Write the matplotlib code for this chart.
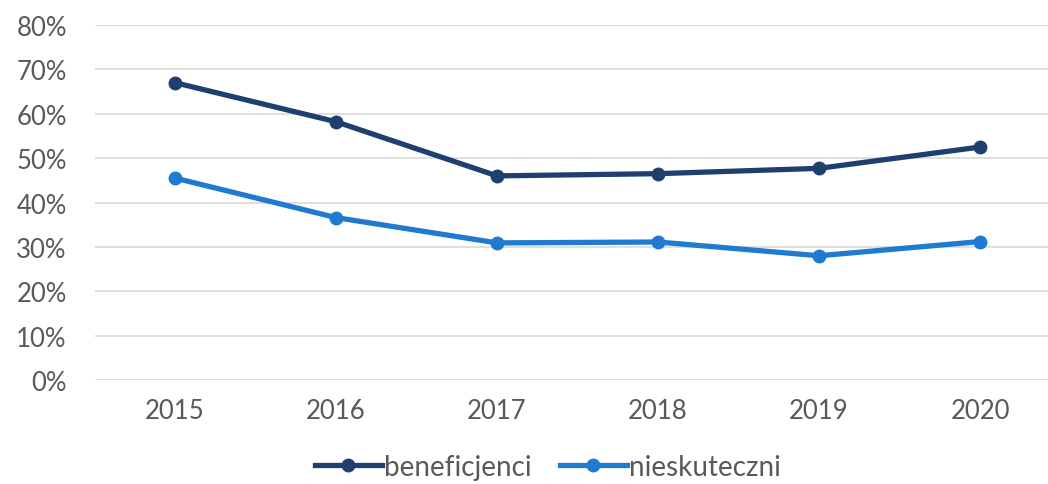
import matplotlib
matplotlib.use("Agg")
import matplotlib.pyplot as plt
from matplotlib.ticker import FuncFormatter

years = ["2015", "2016", "2017", "2018", "2019", "2020"]
beneficjenci = [67.0, 58.2, 46.0, 46.5, 47.7, 52.5]
nieskuteczni = [45.5, 36.6, 30.9, 31.1, 28.0, 31.2]
series_names = ["beneficjenci", "nieskuteczni"]
yticks = [0, 10, 20, 30, 40, 50, 60, 70, 80]

plt.rcParams['font.family'] = ['Lato', 'DejaVu Sans']
fig = plt.figure(figsize=(10.48, 4.85), dpi=100)
ax = fig.add_axes([0.0902, 0.2144, 0.9218, 0.732])

x = list(range(len(years)))
ax.plot(x, beneficjenci, color="#1F3F6E", lw=3.8, marker="o", ms=9, label=series_names[0], zorder=3)
ax.plot(x, nieskuteczni, color="#1F7BCF", lw=3.8, marker="o", ms=9, label=series_names[1], zorder=3)

ax.set_xlim(-0.5, len(years) - 0.5)
ax.set_ylim(0, 80)
ax.set_yticks(yticks)
ax.yaxis.set_major_formatter(FuncFormatter(lambda v, p: f"{int(v)}%"))
ax.set_xticks(x)
ax.set_xticklabels(years)
ax.grid(axis="y", color="#D9D9D9", lw=1.2)
ax.set_axisbelow(True)
for s in ax.spines.values():
    s.set_visible(False)
ax.tick_params(axis="both", length=0, labelsize=18.5, labelcolor="#595959")
ax.tick_params(axis="y", pad=20)
ax.tick_params(axis="x", pad=13)

leg = fig.legend(loc="center", bbox_to_anchor=(0.523, 0.035), ncol=2, frameon=False,
                 fontsize=20, labelcolor="#595959", handlelength=2.4, handletextpad=0.1,
                 columnspacing=1.0)
fig.savefig("out.png", dpi=100)
